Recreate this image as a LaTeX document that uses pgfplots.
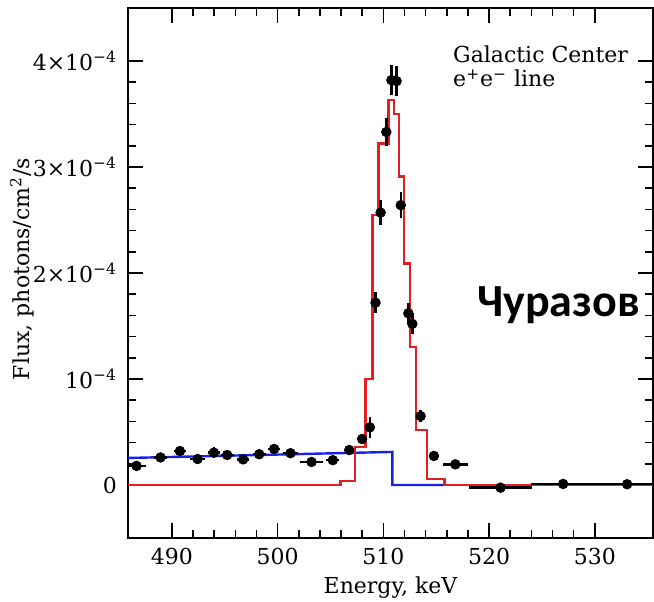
\documentclass[border=0pt]{standalone}
\usepackage{pgfplots}
\pgfplotsset{compat=1.18}
\usepackage{fontspec}
\setmainfont{DejaVu Serif}
\newfontfamily\carlito{Carlito}
\definecolor{modelred}{RGB}{226,32,36}
\definecolor{modelblue}{RGB}{24,34,230}

\begin{document}
\begin{tikzpicture}[font=\fontsize{11}{13}\selectfont]
\path[use as bounding box] (-64pt,-31.5pt) rectangle (263pt,269pt);
\begin{axis}[
  at={(0,0)}, anchor=south west,
  scale only axis,
  width=262.5pt, height=265pt,
  xmin=485.85, xmax=535.5,
  ymin=-0.5, ymax=4.5,
  xtick={490,500,510,520,530},
  minor x tick num=4,
  ytick={0,1,2,3,4},
  yticklabels={0,10\textsuperscript{−4},2×10\textsuperscript{−4},3×10\textsuperscript{−4},4×10\textsuperscript{−4}},
  minor y tick num=4,
  tick align=inside,
  major tick length=7.5pt,
  minor tick length=4pt,
  axis line style={line width=0.8pt},
  every tick/.style={black, line width=0.8pt},
  /pgf/number format/assume math mode=true,
  tick label style={font=\fontsize{11}{13}\selectfont},
  xticklabel style={yshift=-1.5pt},
  yticklabel style={xshift=-2pt},
  xlabel={Energy, keV},
  ylabel={Flux, photons/cm\textsuperscript{2}/s},
  every axis x label/.style={at={(axis description cs:0.5,0)}, anchor=center, yshift=-25pt},
  every axis y label/.style={at={(axis description cs:0,0.5)}, xshift=-53pt, yshift=2pt, anchor=center, rotate=90},
]
% continuum model
\addplot[modelblue, line width=1.2pt] coordinates {
  (485.85,0.255) (510.85,0.312) (510.85,0) (515.8,0)
};
% total model (binned)
\addplot[modelred, line width=1.2pt, const plot] coordinates {
  (485.85,0) (505.95,0.035) (507.3,0.36) (508.3,1.0) (508.97,2.55)
  (509.55,3.22) (510.5,3.63) (511.0,3.5) (511.5,2.91) (511.95,2.09)
  (512.5,1.30) (513.1,0.52) (514.1,0.054) (515.8,0) (535.5,0)
};
% SPI data, flux in units of 1e-4
\addplot[only marks, mark=*, mark size=2.4pt, black,
  error bars/.cd, x dir=both, x explicit, y dir=both, y explicit,
  error mark=none, error bar style={line width=1.2pt, black}]
  table[x=x, y=y, x error=ex, y error=ey] {
x       y       ex    ey
486.66  0.18    0.9   0.03
488.93  0.26    0.6   0.03
490.76  0.32    0.6   0.04
492.43  0.245   0.7   0.03
493.97  0.305   0.6   0.05
495.23  0.283   0.6   0.04
496.74  0.242   0.6   0.03
498.26  0.29    0.6   0.04
499.67  0.34    0.6   0.04
501.22  0.30    0.7   0.03
503.21  0.217   1.1   0.03
505.22  0.234   0.6   0.03
506.77  0.33    0.5   0.03
507.99  0.434   0.3   0.05
508.72  0.544   0.2   0.10
509.26  1.72    0.2   0.10
509.74  2.57    0.2   0.12
510.28  3.33    0.2   0.13
510.76  3.82    0.2   0.14
511.25  3.81    0.2   0.14
511.65  2.64    0.2   0.12
512.36  1.62    0.2   0.10
512.74  1.52    0.2   0.10
513.52  0.65    0.3   0.06
514.78  0.274   0.4   0.03
516.81  0.195   1.2   0.02
521.08  -0.025  3.0   0.02
527.00  0.01    3.0   0.02
533.05  0.007   3.0   0.02
};
\node[anchor=base west, inner sep=0pt] at (axis cs:516.57,3.99) {Galactic Center};
\node[anchor=base west, inner sep=0pt] at (axis cs:516.57,3.755) {e\textsuperscript{+}e\textsuperscript{−} line};
\node[anchor=base west, inner sep=0pt, font=\carlito\bfseries\fontsize{23}{26}\selectfont] at (axis cs:518.84,1.588) {Чуразов};
\end{axis}
\end{tikzpicture}
\end{document}
